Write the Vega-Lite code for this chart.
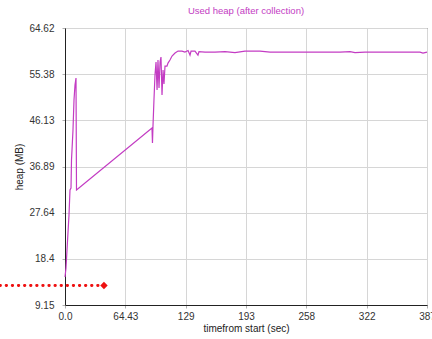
{
  "$schema": "https://vega.github.io/schema/vega-lite/v6.json",
  "width": 362,
  "height": 277,
  "autosize": "none",
  "padding": {"left": 65, "top": 28, "right": 5, "bottom": 34},
  "background": "white",
  "title": {
    "text": "Used heap (after collection)",
    "anchor": "middle",
    "frame": "group",
    "offset": 8,
    "font": "Liberation Sans",
    "fontSize": 9.5,
    "fontWeight": "normal",
    "color": "#c33cc3"
  },
  "config": {
    "view": {"stroke": "#333333", "strokeWidth": 1},
    "axis": {
      "gridColor": "#d6d6d6",
      "gridWidth": 1,
      "domainColor": "#222222",
      "tickColor": "#b0b0b0",
      "tickSize": 3,
      "labelFont": "Liberation Sans",
      "labelFontSize": 10,
      "labelColor": "#333333",
      "labelOverlap": false,
      "labelFlush": false,
      "titleFont": "Liberation Sans",
      "titleFontSize": 10,
      "titleFontWeight": "normal",
      "titleColor": "#222222"
    }
  },
  "datasets": {
    "heap": [
      {"t": 0, "mb": 14.76},
      {"t": 1.07, "mb": 16.56},
      {"t": 2.14, "mb": 20.16},
      {"t": 4.27, "mb": 27.17},
      {"t": 5.34, "mb": 32.18},
      {"t": 6.41, "mb": 32.58},
      {"t": 6.94, "mb": 38.19},
      {"t": 7.48, "mb": 40.19},
      {"t": 8.54, "mb": 44.19},
      {"t": 9.61, "mb": 50.2},
      {"t": 10.68, "mb": 53.2},
      {"t": 11.75, "mb": 54.6},
      {"t": 12.28, "mb": 32.18},
      {"t": 92.9, "mb": 44.59},
      {"t": 93.4, "mb": 41.59},
      {"t": 94.0, "mb": 45.2},
      {"t": 95.0, "mb": 50.2},
      {"t": 96.1, "mb": 55.2},
      {"t": 97.2, "mb": 57.8},
      {"t": 98.3, "mb": 52.2},
      {"t": 99.3, "mb": 58.2},
      {"t": 100.4, "mb": 52.6},
      {"t": 101.5, "mb": 57.8},
      {"t": 102.5, "mb": 58.8},
      {"t": 103.6, "mb": 51.2},
      {"t": 104.7, "mb": 56.2},
      {"t": 105.7, "mb": 53.4},
      {"t": 106.8, "mb": 57.0},
      {"t": 108.9, "mb": 57.0},
      {"t": 110.0, "mb": 57.6},
      {"t": 112.1, "mb": 58.2},
      {"t": 114.3, "mb": 59.0},
      {"t": 117.5, "mb": 59.6},
      {"t": 120.7, "mb": 60.0},
      {"t": 124.9, "mb": 60.0},
      {"t": 128.1, "mb": 59.8},
      {"t": 131.4, "mb": 60.1},
      {"t": 133.5, "mb": 59.2},
      {"t": 134.6, "mb": 60.0},
      {"t": 138.8, "mb": 60.0},
      {"t": 142.0, "mb": 59.2},
      {"t": 143.1, "mb": 59.9},
      {"t": 149.5, "mb": 59.8},
      {"t": 160.2, "mb": 59.8},
      {"t": 170.9, "mb": 59.9},
      {"t": 181.5, "mb": 59.7},
      {"t": 192.2, "mb": 60.0},
      {"t": 208.2, "mb": 60.0},
      {"t": 219.0, "mb": 59.8},
      {"t": 251.0, "mb": 59.8},
      {"t": 293.7, "mb": 59.8},
      {"t": 304.4, "mb": 59.9},
      {"t": 309.7, "mb": 59.7},
      {"t": 320.4, "mb": 59.8},
      {"t": 357.7, "mb": 59.8},
      {"t": 379.1, "mb": 59.8},
      {"t": 382.3, "mb": 59.6},
      {"t": 386.58, "mb": 59.8}
    ],
    "marker": [
      {"t": -69.4, "t2": 41.6, "mb": 13.05}
    ]
  },
  "layer": [
    {
      "data": {"name": "heap"},
      "mark": {"type": "line", "color": "#c33cc3", "strokeWidth": 1.2, "interpolate": "linear"},
      "encoding": {
        "x": {
          "field": "t",
          "type": "quantitative",
          "scale": {"domain": [0, 386.58], "nice": false, "zero": false},
          "axis": {
            "title": "timefrom start (sec)",
            "titlePadding": 2,
            "values": [0, 32.215, 64.43, 96.645, 128.86, 161.075, 193.29, 225.505, 257.72, 289.935, 322.15, 354.365, 386.58],
            "labelExpr": "abs(datum.value/64.43 - round(datum.value/64.43)) > 0.01 ? '' : ['0.0','64.43','129','193','258','322','387'][round(datum.value/64.43)]",
            "labelPadding": 3
          }
        },
        "y": {
          "field": "mb",
          "type": "quantitative",
          "scale": {"domain": [9.15, 64.62], "nice": false, "zero": false},
          "axis": {
            "title": "heap (MB)",
            "titlePadding": 4,
            "values": [9.15, 13.7725, 18.395, 23.0175, 27.64, 32.2625, 36.885, 41.5075, 46.13, 50.7525, 55.375, 59.9975, 64.62],
            "labelExpr": "abs((datum.value-9.15)/9.245 - round((datum.value-9.15)/9.245)) > 0.01 ? '' : ['9.15','18.4','27.64','36.89','46.13','55.38','64.62'][round((datum.value-9.15)/9.245)]",
            "labelPadding": 8
          }
        }
      }
    },
    {
      "data": {"name": "marker"},
      "mark": {"type": "rule", "color": "#ee1111", "strokeWidth": 2.8, "strokeDash": [0.5, 5.6], "strokeCap": "round", "clip": false},
      "encoding": {
        "x": {"field": "t", "type": "quantitative"},
        "x2": {"field": "t2"},
        "y": {"field": "mb", "type": "quantitative"}
      }
    },
    {
      "data": {"name": "marker"},
      "mark": {"type": "point", "shape": "diamond", "filled": true, "color": "#ee1111", "size": 55, "opacity": 1, "clip": false},
      "encoding": {
        "x": {"field": "t2", "type": "quantitative"},
        "y": {"field": "mb", "type": "quantitative"}
      }
    }
  ]
}
